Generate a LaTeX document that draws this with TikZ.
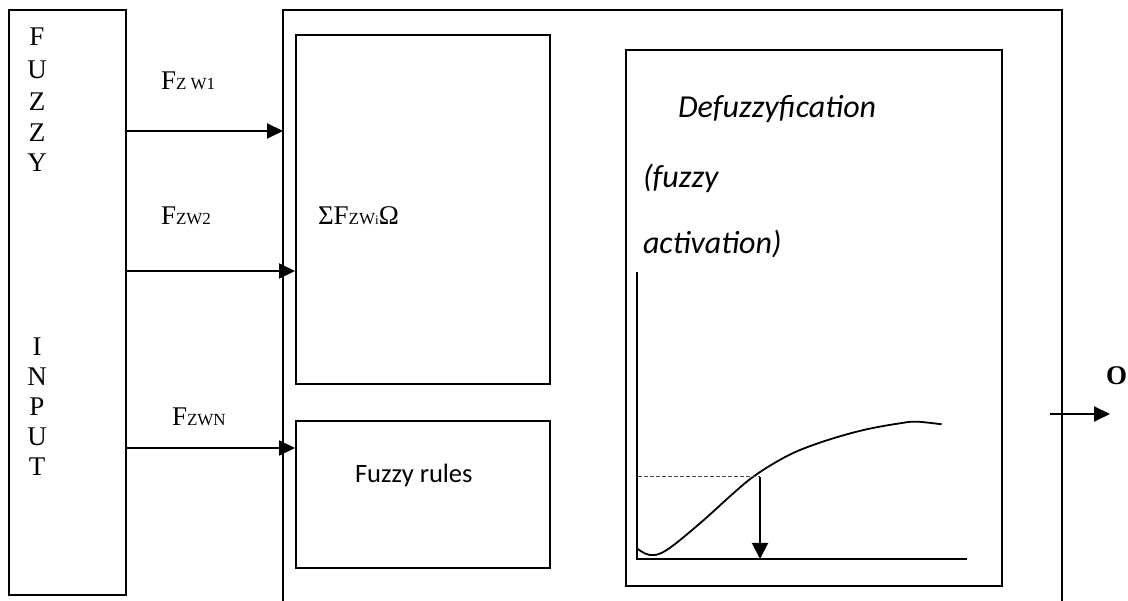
\documentclass[tikz,border=0pt]{standalone}
\usepackage{fontspec}
\setmainfont{Liberation Serif}
\newfontfamily\calib{Carlito}
\usetikzlibrary{arrows.meta}
\begin{document}
\begin{tikzpicture}[x=1pt,y=-1pt,line width=2pt,
  box/.style={draw,rectangle,inner sep=0pt,line width=2pt},
  arr/.style={-{Triangle[length=16pt,width=15pt]},line width=2pt},
  tm/.style={font=\fontsize{27}{27}\selectfont,inner sep=0pt},
  lbl/.style={font=\fontsize{27}{27}\selectfont,inner sep=0pt,anchor=base west},
  cal/.style={font=\calib\fontsize{26.5}{26.5}\selectfont,inner sep=0pt,anchor=base west},
  cali/.style={font=\calib\itshape\fontsize{32}{32}\selectfont,inner sep=0pt,anchor=base west}]
\newcommand{\sm}[1]{{\fontsize{17}{17}\selectfont #1}}
\useasboundingbox (0,0) rectangle (1128,601);
% boxes
\node[box,minimum width=117pt,minimum height=585pt] (inp) at (67.5,302.5) {};
\coordinate (mainSW) at (283,601);
\coordinate (mainNW) at (283,10);
\coordinate (mainNE) at (1062,10);
\coordinate (mainSE) at (1062,601);
\draw (mainSW) -- (mainNW) -- (mainNE) -- (mainSE);
\node[box,minimum width=254pt,minimum height=349pt] (sum) at (423,209.5) {};
\node[box,minimum width=254pt,minimum height=147pt] (rules) at (423,494.5) {};
\node[box,minimum width=376pt,minimum height=536pt] (defuzz) at (814,318) {};
% FUZZY INPUT letters
\node[tm] (f1) at (37,37) {F};
\node[tm] (f2) at (37,70) {U};
\node[tm] (f3) at (37,102) {Z};
\node[tm] (f4) at (37,133) {Z};
\node[tm] (f5) at (37,163) {Y};
\node[tm] (i1) at (37,347) {I};
\node[tm] (i2) at (37,377) {N};
\node[tm] (i3) at (37,407) {P};
\node[tm] (i4) at (37,437) {U};
\node[tm] (i5) at (37,467) {T};
% labels
\node[lbl] (l1) at (160,90) {F\sm{Z W1}};
\node[lbl] (l2) at (160,225) {F\sm{ZW2}};
\node[lbl] (l3) at (171,426) {F\sm{ZWN}};
\node[lbl] (lsum) at (317,225) {ΣF\sm{ZW}{\fontsize{13}{13}\selectfont i}Ω};
\node[cal] (lrules) at (354,483) {Fuzzy rules};
\node[cali] (ld1) at (677,118) {Defuzzyfication};
\node[cali] (ld2) at (642,188) {(fuzzy};
\node[cali] (ld3) at (642,254) {activation)};
\node[lbl,font=\bfseries\fontsize{27}{27}\selectfont] (lo) at (1105,385) {O};
% input arrows
\draw[arr] (inp.east |- 0,131) -- (mainNW |- 0,131);
\draw[arr] (inp.east |- 0,271) -- (sum.west |- 0,271);
\draw[arr] (inp.east |- 0,448) -- (rules.west |- 0,448);
% output arrow
\coordinate (outS) at (1050,414);
\coordinate (outE) at (1110,414);
\draw[arr] (outS) -- (outE);
% graph
\coordinate (ytop) at (637,272);
\coordinate (orig) at (637,559);
\coordinate (xend) at (967,559);
\draw (ytop) -- (orig) -- (xend);
\draw[line width=1.8pt] plot[smooth,tension=0.6] coordinates {(636.7,548.3) (650,555) (666.7,550) (700,523.3) (733.3,493.3) (753.3,476.7) (776.7,461.7) (800,450) (833.3,438.3) (866.7,429.3) (900,423.3) (916.7,421.7) (941.7,424.3)};
\coordinate (dstart) at (638,477);
\coordinate (dpt) at (760,477);
\draw[line width=1pt,dash pattern=on 4pt off 2pt,black!70] (dstart) -- (dpt);
\draw[arr,-{Triangle[length=16pt,width=16pt]}] (dpt) -- (dpt |- orig);
\end{tikzpicture}
\end{document}
